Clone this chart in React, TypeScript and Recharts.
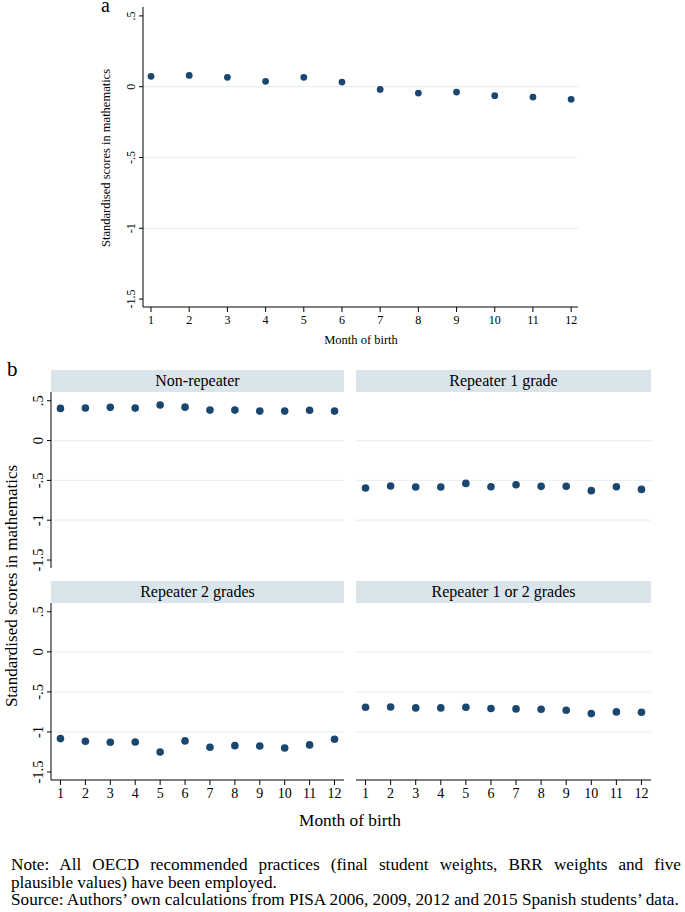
import React from "react";
import { ScatterChart, Scatter, XAxis, YAxis, ReferenceLine } from "recharts";

// month of birth 1..12
const months = [1, 2, 3, 4, 5, 6, 7, 8, 9, 10, 11, 12];
const yTicks = [-1.5, -1, -0.5, 0, 0.5];
const yTickLabels = ["-1.5", "-1", "-.5", "0", ".5"];
const gridValues = [0, -0.5, -1];

// panel a: all students
const overall = [0.073, 0.08, 0.066, 0.038, 0.066, 0.033, -0.019, -0.045, -0.038, -0.063, -0.073, -0.089];

// panel b: by grade repetition
const nonRepeater = [0.404, 0.41, 0.417, 0.408, 0.446, 0.42, 0.383, 0.383, 0.37, 0.37, 0.38, 0.37];
const repeater1 = [-0.596, -0.571, -0.583, -0.583, -0.538, -0.579, -0.554, -0.575, -0.575, -0.629, -0.579, -0.613];
const repeater2 = [-1.083, -1.117, -1.129, -1.125, -1.25, -1.112, -1.192, -1.171, -1.175, -1.2, -1.162, -1.092];
const repeater12 = [-0.692, -0.688, -0.7, -0.7, -0.692, -0.708, -0.712, -0.717, -0.729, -0.771, -0.75, -0.754];

const panelTitles = ["Non-repeater", "Repeater 1 grade", "Repeater 2 grades", "Repeater 1 or 2 grades"];

const noteLines = [
  "Note: All OECD recommended practices (final student weights, BRR weights and five",
  "plausible values) have been employed.",
  "Source: Authors’ own calculations from PISA 2006, 2009, 2012 and 2015 Spanish students’ data.",
];

const FONT = "'Liberation Serif', 'Times New Roman', serif";
const DOT = "#1a476f";
const GRID = "#e8f0f2";
const STRIP = "#d9e5eb";

const toRows = (vals: number[]) => months.map((m, i) => ({ m, v: vals[i] }));

const fmtY = (v: number) => yTickLabels[yTicks.indexOf(v)] ?? String(v);

const RotTick = (props: any) => {
  const { x, y, payload, fontSize } = props;
  return (
    <text
      x={x}
      y={y}
      transform={`rotate(-90 ${x} ${y})`}
      textAnchor="middle"
      fontSize={fontSize}
      fontFamily={FONT}
      fill="#000"
    >
      {fmtY(payload.value)}
    </text>
  );
};

const dot = (r: number) => (p: any) => <circle cx={p.cx} cy={p.cy} r={r} fill={DOT} />;

function Panel({
  vals, left, top, width, height, bottomPad, showY, showX, xDomain, yDomain, yAxisW, xAxisH, tickFont, xTickFont, r,
}: any) {
  return (
    <div style={{ position: "absolute", left, top }}>
      <ScatterChart
        width={width}
        height={height}
        margin={{ top: 0, right: 0, left: 0, bottom: bottomPad || 0 }}
      >
        <XAxis
          type="number"
          dataKey="m"
          domain={xDomain}
          ticks={months}
          allowDataOverflow
          hide={!showX}
          height={xAxisH}
          tickSize={5}
          tickMargin={3}
          axisLine={{ stroke: "#000" }}
          tickLine={{ stroke: "#000" }}
          tick={{ fill: "#000", fontSize: xTickFont, fontFamily: FONT }}
          interval={0}
        />
        <YAxis
          type="number"
          dataKey="v"
          domain={yDomain}
          ticks={yTicks}
          allowDataOverflow
          hide={!showY}
          width={yAxisW}
          tickSize={4}
          tickMargin={4}
          axisLine={{ stroke: "#000" }}
          tickLine={{ stroke: "#000" }}
          tick={<RotTick fontSize={tickFont} />}
          interval={0}
        />
        {gridValues.map((g) => (
          <ReferenceLine key={g} y={g} stroke={GRID} strokeWidth={1.2} />
        ))}
        <Scatter data={toRows(vals)} shape={dot(r)} isAnimationActive={false} />
      </ScatterChart>
    </div>
  );
}

const abs = (s: React.CSSProperties): React.CSSProperties => ({ position: "absolute", fontFamily: FONT, color: "#000", ...s });

export default function App() {
  const bX = [0.62, 12.38];
  const bY = [-1.6, 0.61];
  return (
    <div style={{ position: "absolute", left: 0, top: 0, width: 685, height: 912, background: "#fff", overflow: "hidden" }}>
      {/* panel a */}
      <div style={abs({ left: 101, top: 2, fontSize: 20, lineHeight: "6px" })}>a</div>
      <Panel
        vals={overall}
        left={0}
        top={7}
        width={578}
        height={343}
        showY
        showX
        xDomain={[0.79, 12.18]}
        yDomain={[-1.556, 0.563]}
        yAxisW={143}
        xAxisH={43}
        tickFont={12}
        xTickFont={12}
        r={3.4}
      />
      <div style={abs({ left: 106, top: 158, fontSize: 12.5, whiteSpace: "nowrap", transform: "translate(-50%, -50%) rotate(-90deg)" })}>
        Standardised scores in mathematics
      </div>
      <div style={abs({ left: 361, top: 340, fontSize: 12.5, whiteSpace: "nowrap", transform: "translate(-50%, -50%)" })}>
        Month of birth
      </div>

      {/* panel b */}
      <div style={abs({ left: 7, top: 357, fontSize: 21 })}>b</div>
      {[
        { x: 51, w: 293, y: 370 },
        { x: 356, w: 295, y: 370 },
        { x: 51, w: 293, y: 581 },
        { x: 356, w: 295, y: 581 },
      ].map((s, i) => (
        <div
          key={i}
          style={abs({ left: s.x, top: s.y, width: s.w, height: 22, background: STRIP, fontSize: 16, textAlign: "center", lineHeight: "22px" })}
        >
          {panelTitles[i]}
        </div>
      ))}
      <Panel vals={nonRepeater} left={0} top={392} width={344} height={188} bottomPad={12} showY showX={false}
        xDomain={bX} yDomain={bY} yAxisW={51} xAxisH={0} tickFont={14.5} xTickFont={14} r={3.8} />
      <Panel vals={repeater1} left={356} top={392} width={295} height={176} showY={false} showX={false}
        xDomain={bX} yDomain={bY} yAxisW={0} xAxisH={0} tickFont={14.5} xTickFont={14} r={3.8} />
      <Panel vals={repeater2} left={0} top={603} width={344} height={212} showY showX
        xDomain={bX} yDomain={bY} yAxisW={51} xAxisH={35} tickFont={14.5} xTickFont={14} r={3.8} />
      <Panel vals={repeater12} left={356} top={603} width={295} height={212} showY={false} showX
        xDomain={bX} yDomain={bY} yAxisW={0} xAxisH={35} tickFont={14.5} xTickFont={14} r={3.8} />
      <div style={abs({ left: 12, top: 586, fontSize: 17, whiteSpace: "nowrap", transform: "translate(-50%, -50%) rotate(-90deg)" })}>
        Standardised scores in mathematics
      </div>
      <div style={abs({ left: 350, top: 821, fontSize: 17.3, whiteSpace: "nowrap", transform: "translate(-50%, -50%)" })}>
        Month of birth
      </div>

      {/* notes */}
      {noteLines.map((t, i) => (
        <div
          key={i}
          style={abs({
            left: 11,
            top: 856 + i * 17.5,
            width: i === 0 ? 670 : undefined,
            fontSize: 17.2,
            lineHeight: "17px",
            whiteSpace: i === 0 ? "normal" : "nowrap",
            textAlign: i === 0 ? "justify" : "left",
            textAlignLast: i === 0 ? "justify" : "auto",
          })}
        >
          {t}
        </div>
      ))}
    </div>
  );
}
